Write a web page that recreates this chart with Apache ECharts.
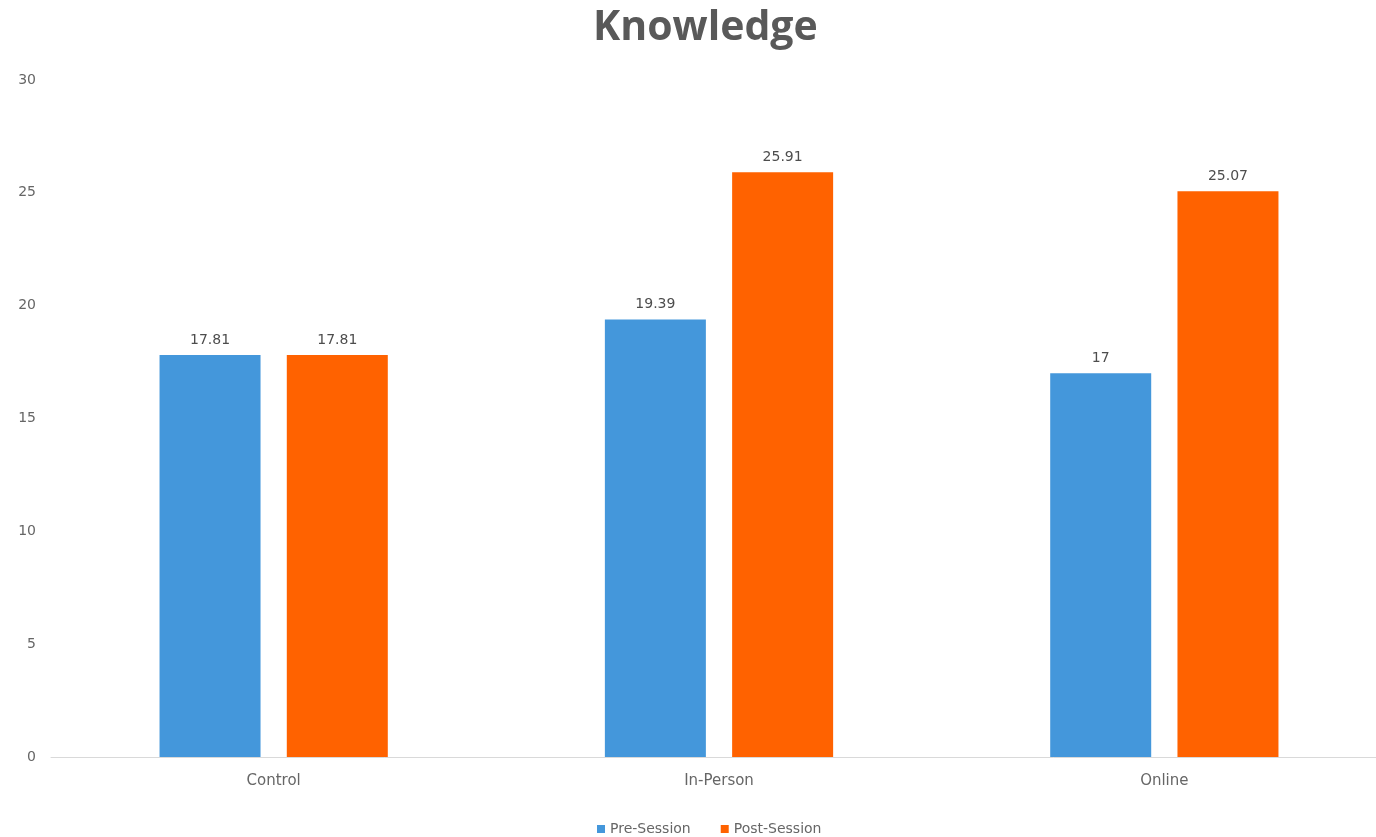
<!DOCTYPE html>
<html>
<head>
<meta charset="utf-8">
<script src="https://cdn.jsdelivr.net/npm/echarts@6/dist/echarts.min.js"></script>
<style>
  html, body { margin: 0; padding: 0; background: #fff; overflow: hidden; }
  #chart { width: 1390px; height: 837px; }
</style>
</head>
<body>
<div id="chart"></div>
<script>
// Knowledge scores before and after each session type
const categories = ['Control', 'In-Person', 'Online'];
const preSession = [17.81, 19.39, 17];
const postSession = [17.81, 25.91, 25.07];
const yTicks = [0, 5, 10, 15, 20, 25, 30];

const chart = echarts.init(document.getElementById('chart'));
const titleFont = '"Open Sans", "Noto Sans", sans-serif';
const font = '"DejaVu Sans", sans-serif';

chart.setOption({
  animation: false,
  backgroundColor: '#ffffff',
  title: {
    text: 'Knowledge',
    left: 588,
    top: 3,
    textStyle: { fontFamily: titleFont, fontSize: 41, fontWeight: 'bold', color: '#595959' }
  },
  legend: {
    top: 817,
    left: 592,
    itemWidth: 8,
    itemHeight: 8,
    itemGap: 30,
    icon: 'rect',
    textStyle: { fontFamily: font, fontSize: 14, color: '#666666' },
    data: ['Pre-Session', 'Post-Session']
  },
  grid: { left: 51, right: 3, top: 80, bottom: 80, containLabel: false },
  xAxis: {
    type: 'category',
    data: categories,
    axisLine: { lineStyle: { color: '#d9d9d9', width: 1 } },
    axisTick: { show: false },
    axisLabel: { fontFamily: font, fontSize: 15, color: '#666666', margin: 17 }
  },
  yAxis: {
    type: 'value',
    min: yTicks[0],
    max: yTicks[yTicks.length - 1],
    interval: 5,
    splitLine: { show: false },
    axisLine: { show: false },
    axisTick: { show: false },
    axisLabel: { fontFamily: font, fontSize: 14, color: '#666666', margin: 15 }
  },
  series: [
    {
      name: 'Pre-Session',
      type: 'bar',
      data: preSession,
      barWidth: 101,
      barGap: '26%',
      itemStyle: { color: '#4497DB' },
      label: { show: true, position: 'top', distance: 8, fontFamily: font, fontSize: 14, color: '#4d4d4d' }
    },
    {
      name: 'Post-Session',
      type: 'bar',
      data: postSession,
      barWidth: 101,
      itemStyle: { color: '#FF6200' },
      label: { show: true, position: 'top', distance: 8, fontFamily: font, fontSize: 14, color: '#4d4d4d' }
    }
  ]
});
</script>
</body>
</html>
